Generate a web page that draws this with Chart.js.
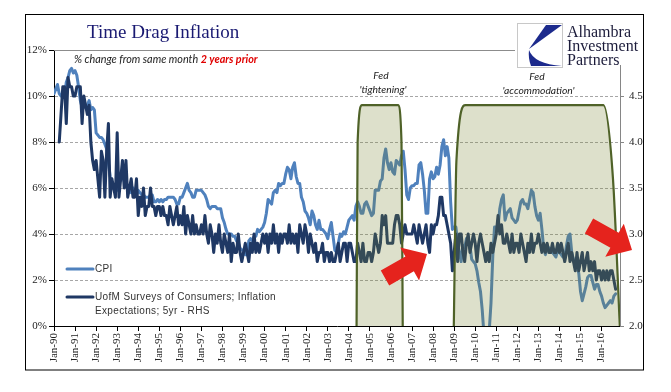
<!DOCTYPE html>
<html><head><meta charset="utf-8">
<script src="https://cdn.jsdelivr.net/npm/chart.js@4.4.1/dist/chart.umd.min.js"></script>
<style>html,body{margin:0;padding:0;background:#fff;}#wrap{width:671px;height:392px;position:relative;}</style>
</head><body><div id="wrap"><canvas id="c" width="671" height="392"></canvas></div>
<script>
// x-axis tick labels (one per January) and their month index (0 = Jan-1990)
const tickLabels = ['Jan-90','Jan-91','Jan-92','Jan-93','Jan-94','Jan-95','Jan-96','Jan-97','Jan-98','Jan-99',
  'Jan-00','Jan-01','Jan-02','Jan-03','Jan-04','Jan-05','Jan-06','Jan-07','Jan-08','Jan-09',
  'Jan-10','Jan-11','Jan-12','Jan-13','Jan-14','Jan-15','Jan-16'];
const tickMonths = [0,12,24,36,48,60,72,84,96,108,120,132,144,156,168,180,192,204,216,228,240,252,264,276,288,300,312];

// CPI, % change from same month 2 years prior (monthly, Jan-1990 .. Sep-2016)
const cpi = [
10.1,10.3,10.5,10.1,10.0,10.1,10.0,10.6,10.8,11.1,11.2,11.0,
11.1,10.9,10.4,9.8,9.5,9.6,9.5,9.6,9.8,9.4,9.5,9.4,
8.4,8.3,8.2,8.2,8.1,7.9,7.7,7.1,6.5,6.2,6.1,6.1,
5.9,6.2,6.4,6.5,6.3,6.2,6.0,6.0,5.8,6.0,5.8,5.7,
5.9,5.8,5.7,5.7,5.6,5.6,5.6,5.7,5.7,5.4,5.4,5.5,
5.4,5.5,5.4,5.5,5.5,5.6,5.6,5.6,5.6,5.5,5.3,5.3,
5.6,5.6,5.8,6.0,6.2,5.9,5.8,5.6,5.6,5.9,5.9,5.9,
5.9,5.8,5.7,5.5,5.2,5.1,5.2,5.2,5.2,5.1,5.1,5.1,
4.7,4.5,4.2,4.0,4.0,4.0,3.9,3.9,3.7,3.6,3.4,3.3,
3.3,3.1,3.1,3.7,3.8,3.7,3.9,3.9,4.2,4.1,4.2,4.3,
4.5,4.9,5.5,5.4,5.3,5.8,5.9,5.8,6.2,6.1,6.2,6.2,
6.6,6.9,6.8,6.4,6.9,7.1,6.5,6.2,6.2,5.6,5.4,5.0,
4.9,4.7,4.4,5.0,4.8,4.4,4.2,4.6,4.2,4.2,4.1,4.0,
3.8,4.2,4.5,3.9,3.3,3.2,3.6,4.0,3.9,4.1,4.0,4.3,
4.6,4.7,4.8,4.6,5.2,5.4,5.2,4.9,4.9,5.3,5.4,5.2,
5.0,4.8,4.9,5.9,5.9,5.9,6.3,6.4,7.3,7.7,7.1,6.8,
7.1,6.7,6.6,7.2,7.1,7.0,7.4,7.6,6.8,5.7,5.5,6.0,
6.1,6.1,6.2,6.2,7.0,7.1,6.6,5.9,4.9,4.9,6.4,6.7,
6.4,6.5,6.9,6.6,7.0,7.8,8.1,7.4,7.8,7.3,5.4,4.2,
4.3,4.3,3.6,3.2,2.8,3.5,3.4,3.8,3.6,3.5,2.9,2.8,
2.7,2.4,1.9,1.5,0.7,-0.4,-0.9,-0.4,-0.2,1.0,3.0,4.3,
4.3,4.3,5.1,5.5,5.7,4.6,4.9,5.0,5.1,4.7,4.6,4.5,
4.6,5.0,5.4,5.5,5.3,5.3,5.1,5.5,5.9,5.8,5.2,4.8,
4.6,4.9,4.2,3.4,3.1,3.4,3.4,3.2,3.2,3.1,3.0,3.3,
3.2,3.1,3.0,3.0,3.5,3.9,4.0,3.2,2.9,2.6,2.6,2.3,
1.5,1.1,1.4,1.7,2.1,2.2,2.2,1.9,1.6,1.8,1.8,1.5,
1.3,1.0,0.8,0.9,1.0,1.1,1.0,1.3,1.4];

// UofM Surveys of Consumers; Inflation Expectations; 5yr (RHS)
const uofm = [
null,null,null,4.0,4.3,4.6,4.6,4.2,4.7,4.6,4.6,4.5,
4.5,4.6,4.6,4.6,4.2,4.5,4.4,4.3,4.4,4.0,3.8,3.7,
3.8,3.6,3.4,3.9,3.8,3.4,3.9,4.2,3.4,3.6,3.5,3.4,
4.1,3.4,3.6,3.8,3.5,3.8,3.4,3.5,3.6,3.4,3.4,3.6,
3.2,3.4,3.3,3.5,3.2,3.3,3.3,3.5,3.3,3.3,3.2,3.3,
3.3,3.2,3.3,3.2,3.2,3.1,3.3,3.2,3.1,3.2,3.3,3.1,
3.2,3.1,3.3,3.0,3.2,3.1,3.0,3.2,3.0,3.1,3.0,3.0,
3.1,3.0,3.2,3.0,2.9,3.1,3.0,2.8,3.0,2.9,3.1,2.9,
2.8,3.0,2.9,2.8,3.0,2.7,2.9,2.8,2.8,3.0,2.8,2.7,
2.8,2.9,2.8,2.7,2.9,2.8,3.0,2.8,2.9,2.8,2.9,3.0,
2.9,3.0,2.8,3.0,2.9,3.1,2.9,3.0,2.8,3.0,2.9,3.0,
3.0,2.9,3.1,2.9,3.0,2.9,3.0,2.8,3.1,3.0,2.9,3.1,
3.0,2.8,3.0,2.9,2.8,2.9,2.7,2.8,2.8,2.9,2.7,2.8,
2.8,2.7,2.8,2.7,2.7,2.8,2.9,2.7,2.8,2.9,2.9,2.7,
2.9,2.9,2.8,2.7,2.7,2.9,2.8,2.7,2.9,2.7,2.7,2.8,
2.8,2.7,2.8,3.0,2.9,2.8,2.9,3.2,3.1,3.2,2.9,2.9,
2.9,2.9,3.1,3.2,3.2,3.1,2.9,3.0,3.1,3.0,3.0,3.0,
3.0,3.1,3.0,2.9,3.1,3.0,2.9,3.0,3.1,2.9,2.8,3.1,
3.0,3.1,3.1,3.2,3.4,3.4,3.2,3.2,3.1,3.0,2.9,2.6,
2.8,3.0,2.7,3.0,3.0,2.8,2.7,2.9,3.0,2.8,2.9,3.0,
2.9,2.7,2.9,3.0,2.9,2.8,2.7,2.8,2.7,2.9,2.8,2.9,
3.0,3.2,3.0,3.1,2.9,2.9,3.0,2.9,2.8,3.0,2.8,2.9,
2.9,2.8,3.0,2.9,2.8,2.7,2.9,2.8,3.0,2.8,2.9,2.9,
3.0,2.9,2.8,2.9,2.8,2.9,2.8,2.8,2.9,2.8,2.8,2.9,
2.8,2.9,2.8,2.7,2.8,2.9,2.7,2.8,2.7,2.6,2.8,2.6,
2.7,2.8,2.6,2.7,2.8,2.6,2.7,2.6,2.7,2.5,2.6,2.6,
2.5,2.6,2.5,2.6,2.5,2.6,2.6,2.5,2.4];

// Fed regimes (month index, RHS level) – outline of the shaded blocks
const fedTighteningX = [172.4, 173.0, 175.5, 196.0, 198.0, 198.7];
const fedTighteningY = [2.0, 4.0, 4.4, 4.4, 4.0, 2.0];
const fedAccommodationX = [227.8, 229.3, 234.5, 313.0, 318.5, 322.4];
const fedAccommodationY = [2.0, 3.8, 4.4, 4.4, 3.6, 2.0];

const CPI_COLOR = '#4f81bd';
const UOFM_COLOR = '#1f3864';
const FED_BORDER = '#4f6228';
const FED_FILL = 'rgba(118,133,48,0.25)';

const toXY = (arr) => arr.map((v, i) => ({x: i, y: v}));
const zipXY = (xs, ys) => xs.map((x, i) => ({x: x, y: ys[i]}));

function drawArrow(ctx, x0, y0, x1, y1, bw, hw, hl, color) {
  const dx = x1 - x0, dy = y1 - y0, L = Math.hypot(dx, dy);
  const ux = dx / L, uy = dy / L, px = -uy, py = ux;
  const bx = x1 - ux * hl, by = y1 - uy * hl;
  ctx.beginPath();
  ctx.moveTo(x0 + px * bw / 2, y0 + py * bw / 2);
  ctx.lineTo(bx + px * bw / 2, by + py * bw / 2);
  ctx.lineTo(bx + px * hw / 2, by + py * hw / 2);
  ctx.lineTo(x1, y1);
  ctx.lineTo(bx - px * hw / 2, by - py * hw / 2);
  ctx.lineTo(bx - px * bw / 2, by - py * bw / 2);
  ctx.lineTo(x0 - px * bw / 2, y0 - py * bw / 2);
  ctx.closePath();
  ctx.fillStyle = color;
  ctx.fill();
}

const decor = {
  id: 'decor',
  afterDraw(chart) {
    const ctx = chart.ctx;
    const area = chart.chartArea;
    ctx.save();
    // top solid line of plot area
    ctx.strokeStyle = '#8c8c8c'; ctx.lineWidth = 1;
    ctx.beginPath(); ctx.moveTo(area.left, area.top + 0.5); ctx.lineTo(area.right, area.top + 0.5); ctx.stroke();
    // outer frame
    ctx.strokeStyle = '#000'; ctx.lineWidth = 1;
    ctx.strokeRect(25.5, 14.5, 618, 355.5);
    // title
    ctx.fillStyle = '#1a1a72';
    ctx.font = '19px "Liberation Serif"';
    ctx.textBaseline = 'alphabetic'; ctx.textAlign = 'left';
    ctx.fillText('Time Drag Inflation', 87, 38);
    // subtitle
    ctx.font = 'italic 10.8px Lato';
    ctx.fillStyle = '#1a1a1a';
    const s1 = '% change from same month ';
    ctx.fillText(s1, 74, 63);
    const w1 = ctx.measureText(s1).width;
    ctx.font = 'bold italic 10.8px Lato';
    ctx.fillStyle = '#e00000';
    ctx.fillText('2 years prior', 74 + w1, 63);
    // Fed labels
    ctx.fillStyle = '#1a1a1a';
    ctx.font = 'italic 10.3px Lato';
    ctx.textAlign = 'center'; ctx.textBaseline = 'middle';
    ctx.fillText('Fed', 381, 76);
    ctx.fillText("'tightening'", 383, 90);
    ctx.fillText('Fed', 537, 77);
    ctx.fillText("'accommodation'", 538.5, 91);
    // legend
    ctx.lineWidth = 3; ctx.lineCap = 'round';
    ctx.strokeStyle = CPI_COLOR;
    ctx.beginPath(); ctx.moveTo(67, 269); ctx.lineTo(93, 269); ctx.stroke();
    ctx.strokeStyle = UOFM_COLOR;
    ctx.beginPath(); ctx.moveTo(67, 297); ctx.lineTo(93, 297); ctx.stroke();
    ctx.fillStyle = '#333';
    ctx.font = '10px "Liberation Sans"';
    if ('letterSpacing' in ctx) ctx.letterSpacing = '0.35px';
    ctx.textAlign = 'left'; ctx.textBaseline = 'middle';
    ctx.fillText('CPI', 95, 269);
    ctx.fillText('UofM Surveys of Consumers; Inflation', 95, 297);
    ctx.fillText('Expectations; 5yr - RHS', 95, 311);
    if ('letterSpacing' in ctx) ctx.letterSpacing = '0px';
    // arrows
    drawArrow(ctx, 385, 278, 427, 254, 17, 38, 20, '#e5231d');
    drawArrow(ctx, 589, 226, 632, 250, 17, 38, 20, '#e5231d');
    // logo
    ctx.fillStyle = '#fff';
    ctx.fillRect(515, 19, 128, 46);
    ctx.strokeStyle = '#c8c8c8'; ctx.lineWidth = 1;
    ctx.strokeRect(517.5, 23.5, 45, 44);
    ctx.fillStyle = '#1c2a8c';
    ctx.beginPath();
    ctx.moveTo(546, 25); ctx.lineTo(562, 25); ctx.lineTo(529, 49); ctx.closePath(); ctx.fill();
    ctx.beginPath();
    ctx.moveTo(529, 50); ctx.quadraticCurveTo(534, 64, 562, 66); ctx.lineTo(531, 66);
    ctx.quadraticCurveTo(528, 58, 529, 50); ctx.closePath(); ctx.fill();
    ctx.fillStyle = '#1b1b3a';
    ctx.font = '16px "Liberation Serif"';
    ctx.textBaseline = 'alphabetic';
    ctx.fillText('Alhambra', 567, 37);
    ctx.fillText('Investment', 567, 51);
    ctx.fillText('Partners', 567, 65);
    ctx.restore();
  }
};

Chart.defaults.font.family = '"Liberation Serif"';
Chart.defaults.font.size = 11;
Chart.defaults.color = '#222';

new Chart(document.getElementById('c'), {
  type: 'line',
  data: {
    datasets: [
      {label: 'Fed tightening', data: zipXY(fedTighteningX, fedTighteningY), yAxisID: 'y1',
       borderColor: FED_BORDER, borderWidth: 2.2, backgroundColor: FED_FILL, fill: 'start',
       cubicInterpolationMode: 'monotone', pointRadius: 0, order: 0},
      {label: 'Fed accommodation', data: zipXY(fedAccommodationX, fedAccommodationY), yAxisID: 'y1',
       borderColor: FED_BORDER, borderWidth: 2.2, backgroundColor: FED_FILL, fill: 'start',
       cubicInterpolationMode: 'monotone', pointRadius: 0, order: 0},
      {label: 'UofM Surveys of Consumers; Inflation Expectations; 5yr - RHS', data: toXY(uofm), yAxisID: 'y1',
       borderColor: UOFM_COLOR, borderWidth: 3, pointRadius: 0, tension: 0, fill: false,
       borderJoinStyle: 'round', borderCapStyle: 'round', spanGaps: false, order: 1},
      {label: 'CPI', data: toXY(cpi), yAxisID: 'y',
       borderColor: CPI_COLOR, borderWidth: 3, pointRadius: 0, tension: 0, fill: false,
       borderJoinStyle: 'round', borderCapStyle: 'round', order: 2}
    ]
  },
  options: {
    responsive: false, animation: false, devicePixelRatio: 1,
    layout: {padding: {top: 50, left: 0, right: 0, bottom: 0}},
    plugins: {legend: {display: false}, tooltip: {enabled: false}},
    scales: {
      x: {
        type: 'linear', min: 0, max: 322.5,
        afterBuildTicks: (s) => { s.ticks = tickMonths.map(v => ({value: v})); },
        afterFit: (s) => { s.height = 66; },
        ticks: {autoSkip: false, maxRotation: 90, minRotation: 90, padding: 2,
                callback: (v, i) => tickLabels[i]},
        grid: {drawOnChartArea: false, drawTicks: true, tickLength: 5, tickColor: '#000'},
        border: {color: '#000', width: 1}
      },
      y: {
        position: 'left', min: 0, max: 12,
        afterFit: (s) => { s.width = 54; },
        ticks: {stepSize: 2, padding: 2, callback: (v) => v + '%'},
        grid: {color: (c) => (c.tick && (c.tick.value === 12 || c.tick.value === 0)) ? 'rgba(0,0,0,0)' : '#a6a6a6',
               tickColor: '#000', tickLength: 5, lineWidth: 1},
        border: {color: '#000', width: 1, dash: [3, 2]}
      },
      y1: {
        position: 'right', min: 2, max: 5,
        afterFit: (s) => { s.width = 51; },
        ticks: {stepSize: 0.5, padding: 5, callback: (v) => v >= 5 ? '' : v.toFixed(1)},
        grid: {drawOnChartArea: false, tickLength: 4, tickColor: '#868686'},
        border: {color: '#868686', width: 1}
      }
    }
  },
  plugins: [decor]
});
</script>
</body></html>
